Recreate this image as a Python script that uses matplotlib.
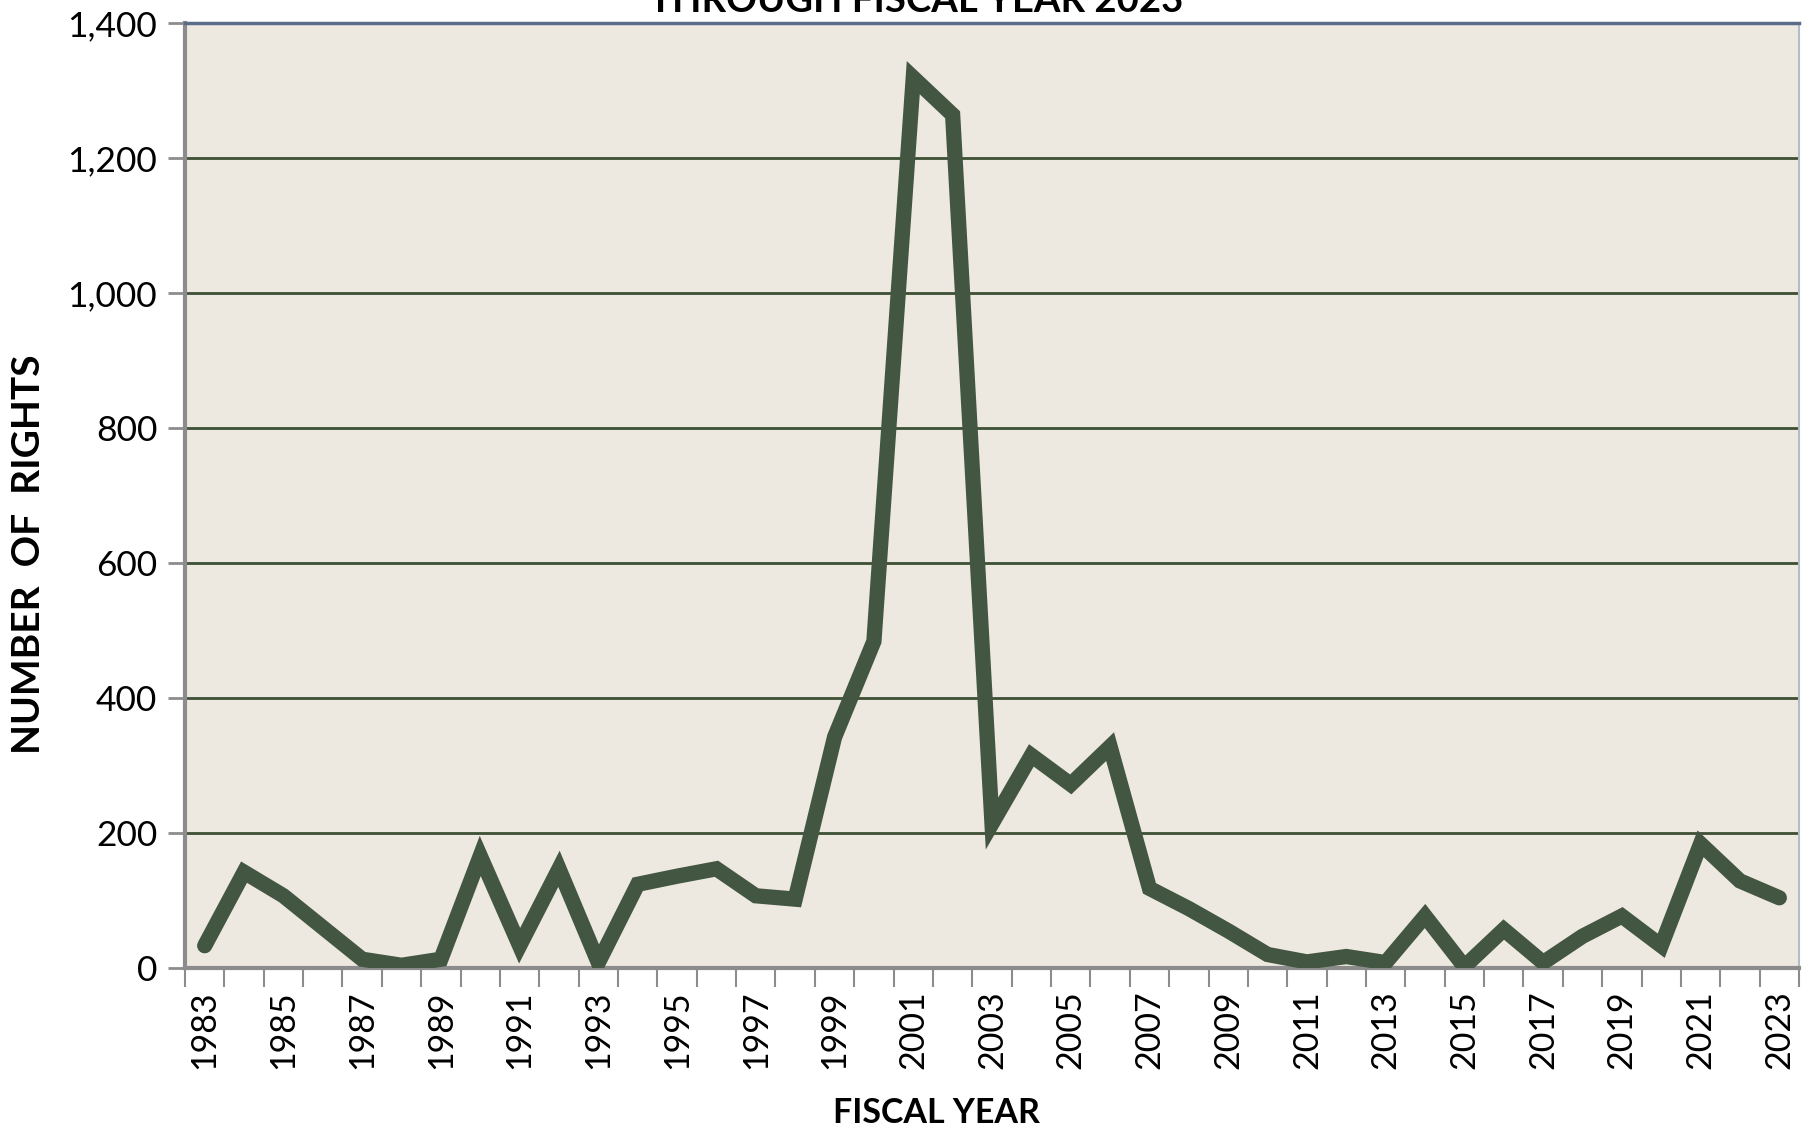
import matplotlib
matplotlib.use("Agg")
import matplotlib.pyplot as plt
import numpy as np

years = list(range(1983, 2024))
rights = [33, 142, 107, 60, 13, 4, 13, 166, 33, 147, 8, 124, 136, 147, 107, 102,
          342, 484, 1319, 1264, 214, 315, 272, 328, 118, 88, 55, 20, 9, 17, 8, 77,
          2, 57, 8, 47, 77, 33, 184, 129, 104]
y_ticks = [0, 200, 400, 600, 800, 1000, 1200, 1400]
x_labels = [str(y) for y in years[::2]]

W, H = 1818, 1134
fig = plt.figure(figsize=(W / 100, H / 100), dpi=100)
ax = fig.add_axes([185 / W, 1 - 968 / H, (1799 - 185) / W, (968 - 23) / H])
ax.set_facecolor("#ede9e1")

x = np.arange(len(years))
ax.plot(x, rights, color="#435641", lw=11, solid_joinstyle="miter",
        solid_capstyle="round", zorder=3)

ax.set_ylim(0, 1400)
ax.set_xlim(-0.5, len(years) - 0.5)
ax.set_yticks(y_ticks)
ax.set_yticklabels([f"{v:,}" for v in y_ticks], fontfamily="Lato", fontsize=25.5)
for v in y_ticks[1:-1]:
    ax.axhline(v, color="#3d5035", lw=2, zorder=1)

ax.set_xticks(np.arange(-0.5, len(years), 1.0))
ax.set_xticklabels([])
ax.set_xticks(x[::2], minor=True)
ax.set_xticklabels(x_labels, minor=True, rotation=90, fontfamily="Lato", fontsize=24.5)
ax.tick_params(axis="x", which="major", length=14, width=1.5, color="#8c8c8c", direction="out")
ax.tick_params(axis="x", which="minor", length=0, pad=16)
ax.tick_params(axis="y", length=12, width=2, color="#8c8c8c", pad=8)

for s in ["left", "bottom"]:
    ax.spines[s].set_color("#8c8c8c")
    ax.spines[s].set_linewidth(3)
ax.spines["top"].set_color("#5a6c8a")
ax.spines["top"].set_linewidth(2.5)
ax.spines["right"].set_color("#b4bccb")
ax.spines["right"].set_linewidth(1.5)

fig.text(916 / W, 1 - 12 / H, "THROUGH FISCAL YEAR 2023", ha="center", va="baseline",
         fontfamily="Lato", fontweight="bold", fontsize=27.5)
fig.text(29 / W, 1 - 554 / H, "NUMBER  OF  RIGHTS", ha="center", va="center",
         rotation=90, fontfamily="Lato", fontweight="bold", fontsize=28)
fig.text(936 / W, 1 - 1113 / H, "FISCAL YEAR", ha="center", va="center",
         fontfamily="Lato", fontweight="bold", fontsize=24.5)

fig.savefig("out.png", dpi=100, facecolor="white")
